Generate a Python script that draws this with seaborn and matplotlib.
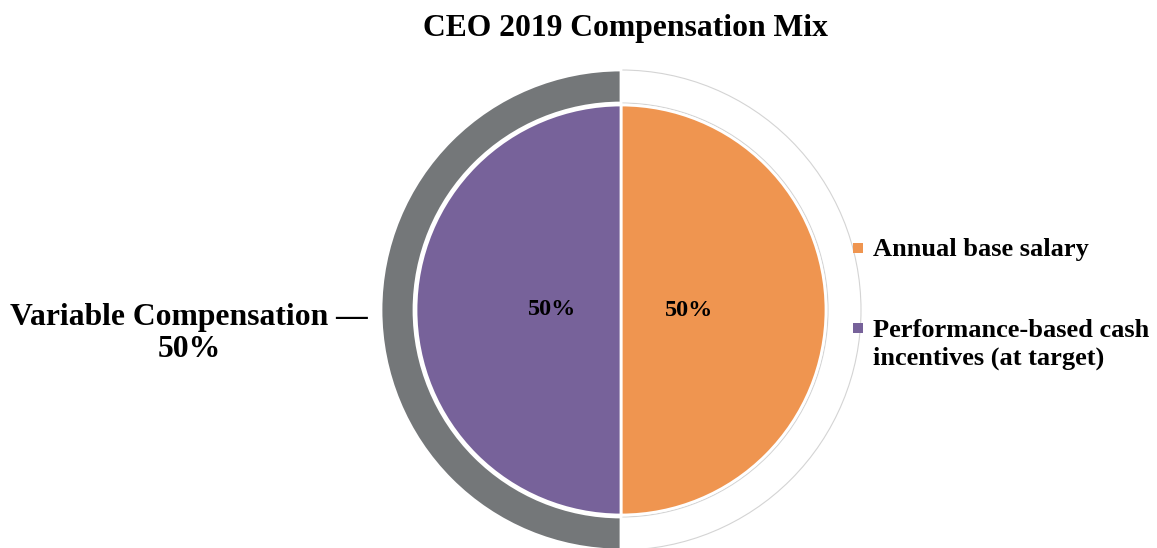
import matplotlib
matplotlib.use("Agg")
import matplotlib.pyplot as plt
import seaborn as sns

title = "CEO 2019 Compensation Mix"
inner_labels = ["Annual base salary", "Performance-based cash\nincentives (at target)"]
inner_values = [50, 50]
inner_colors = ["#EF9550", "#77629A"]
outer_labels = ["Fixed Compensation", "Variable Compensation"]
outer_values = [50, 50]
outer_colors = ["#FFFFFF", "#747779"]
callout_lines = ["Variable Compensation —", "50%"]

sns.set_theme(style="white")
plt.rcParams['font.family'] = ['Liberation Serif', 'DejaVu Serif']
plt.rcParams['text.color'] = 'black'

W, H = 1157, 548
fig = plt.figure(figsize=(W / 100, H / 100), dpi=100)
ax = fig.add_axes([0, 0, 1, 1])
cx, cy = 621, H - 310

outer, _ = ax.pie(outer_values, radius=240, center=(cx, cy), startangle=90,
                  counterclock=False, colors=outer_colors,
                  wedgeprops=dict(width=33, edgecolor="white", linewidth=2))
outer[0].set_edgecolor("#D4D4D4")
outer[0].set_linewidth(0.8)

inner, _, autotexts = ax.pie(inner_values, radius=205, center=(cx, cy), startangle=90,
                             counterclock=False, colors=inner_colors,
                             autopct="%d%%", pctdistance=0.334,
                             wedgeprops=dict(edgecolor="white", linewidth=2),
                             textprops=dict(fontsize=17.4, fontweight="bold", color="black"))

ax.set_xlim(0, W)
ax.set_ylim(0, H)
ax.set_aspect("equal")
ax.axis("off")

# title
ax.text(625.5, H - 36, title, ha="center", va="baseline",
        fontsize=22.8, fontweight="bold", color="black")

# callout on the left
for line, base in zip(callout_lines, [325, 357]):
    ax.text(189, H - base, line, ha="center", va="baseline",
            fontsize=22.8, fontweight="bold", color="black")

# legend (squares aligned with first text line)
legend_marker_y = [248, 328]
legend_baselines = [256, 337]
for lab, col, my, by in zip(inner_labels, inner_colors, legend_marker_y, legend_baselines):
    ax.scatter([858], [H - my], marker="s", s=52, color=col, linewidths=0)
    for k, part in enumerate(lab.split("\n")):
        ax.text(873, H - (by + 28 * k), part, ha="left", va="baseline",
                fontsize=19, fontweight="bold", color="black")

fig.savefig("out.png", dpi=100)
